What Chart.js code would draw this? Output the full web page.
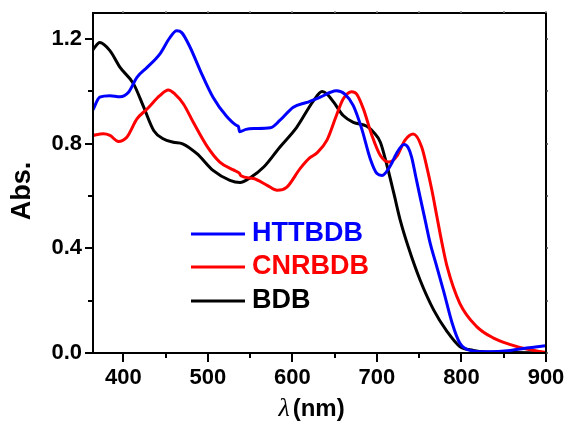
<!DOCTYPE html>
<html>
<head>
<meta charset="utf-8">
<script src="https://cdn.jsdelivr.net/npm/chart.js@4.4.1/dist/chart.umd.min.js"></script>
<style>
  html, body { margin: 0; padding: 0; background: #fff; }
  canvas { display: block; }
</style>
</head>
<body>
<canvas id="spectra" width="569" height="421"></canvas>
<script>
// Absorption spectra (wavelength in nm, absorbance)
const httbdbWavelength = [364, 372, 384, 396, 406, 416, 428, 443, 455, 463, 469, 479, 491, 506, 522, 534, 536, 537.5, 545, 554, 574, 585, 601, 617, 633, 645, 652, 662, 672, 682, 692, 700, 706, 716, 724, 732, 737, 741, 746, 751, 757, 763, 769, 779, 789, 798, 810, 830, 858, 877, 900];
const httbdbAbs = [0.93, 0.978, 0.984, 0.98, 0.997, 1.054, 1.092, 1.143, 1.206, 1.232, 1.225, 1.168, 1.079, 0.978, 0.905, 0.87, 0.866, 0.846, 0.855, 0.858, 0.861, 0.889, 0.94, 0.958, 0.978, 0.997, 1.003, 0.99, 0.946, 0.857, 0.743, 0.686, 0.679, 0.717, 0.768, 0.797, 0.785, 0.749, 0.673, 0.597, 0.508, 0.419, 0.35, 0.235, 0.114, 0.038, 0.01, 0.005, 0.01, 0.019, 0.028];

const cnrbdbWavelength = [364, 376, 384, 394, 404, 416, 428, 443, 453, 461, 471, 483, 499, 514, 530, 537, 539, 554, 570, 582, 593, 609, 620, 629, 641, 652, 660, 670, 676, 684, 694, 704, 714, 724, 733, 743, 753, 759, 765, 771, 777, 783, 798, 818, 838, 858, 877, 900];
const cnrbdbAbs = [0.832, 0.838, 0.832, 0.809, 0.825, 0.895, 0.933, 0.984, 1.006, 0.99, 0.952, 0.88, 0.79, 0.73, 0.7, 0.688, 0.678, 0.667, 0.641, 0.622, 0.633, 0.705, 0.745, 0.765, 0.815, 0.908, 0.971, 0.999, 0.99, 0.933, 0.832, 0.755, 0.73, 0.755, 0.813, 0.837, 0.787, 0.711, 0.622, 0.52, 0.419, 0.33, 0.19, 0.101, 0.057, 0.032, 0.015, 0.002];

const bdbWavelength = [364, 372, 384, 396, 412, 424, 436, 447, 459, 470, 487, 506, 526, 538, 550, 566, 585, 605, 625, 635, 641, 649, 660, 672, 688, 696, 704, 712, 720, 727.5, 737, 751, 767, 783, 798, 814, 830, 860, 900];
const bdbAbs = [1.16, 1.187, 1.156, 1.092, 1.029, 0.94, 0.85, 0.819, 0.806, 0.8, 0.762, 0.698, 0.66, 0.652, 0.67, 0.711, 0.787, 0.863, 0.965, 1.0, 0.99, 0.958, 0.908, 0.882, 0.867, 0.844, 0.806, 0.715, 0.61, 0.508, 0.406, 0.279, 0.165, 0.082, 0.025, 0.01, 0.004, 0.002, 0.0];

const seriesNames = ['HTTBDB', 'CNRBDB', 'BDB'];
const seriesColors = ['#0000ff', '#ff0000', '#000000'];

const xMajorTicks = [400, 500, 600, 700, 800, 900];
const xMinorTicks = [450, 550, 650, 750, 850];
const yMajorTicks = [0.0, 0.4, 0.8, 1.2];
const yMinorTicks = [0.2, 0.6, 1.0];
const xRange = [364, 900];
const yRange = [0, 1.3];

const yTitle = 'Abs.';
const xTitleSymbol = 'λ';
const xTitleUnit = '(nm)';

const FONT = '"Liberation Sans", Arial, Helvetica, sans-serif';

function toPoints(xs, ys) {
  return xs.map((x, i) => ({ x: x, y: ys[i] }));
}

const datasets = [
  toPoints(httbdbWavelength, httbdbAbs),
  toPoints(cnrbdbWavelength, cnrbdbAbs),
  toPoints(bdbWavelength, bdbAbs)
].map((pts, i) => ({
  label: seriesNames[i],
  data: pts,
  borderColor: seriesColors[i],
  backgroundColor: seriesColors[i],
  borderWidth: 3,
  pointRadius: 0,
  fill: false,
  cubicInterpolationMode: 'monotone'
}));

// Frame, tick marks, axis titles and the in-plot legend
const decorations = {
  id: 'decorations',
  afterDraw(chart) {
    const ctx = chart.ctx;
    const a = chart.chartArea;
    const xs = chart.scales.x;
    const ys = chart.scales.y;
    ctx.save();

    // frame
    ctx.strokeStyle = '#000';
    ctx.lineWidth = 2;
    ctx.strokeRect(a.left, a.top, a.right - a.left, a.bottom - a.top);

    ctx.lineCap = 'butt';
    const hTick = (v, len, y0, dir, color) => {
      const px = Math.round(xs.getPixelForValue(v));
      ctx.strokeStyle = color;
      ctx.beginPath();
      ctx.moveTo(px, y0);
      ctx.lineTo(px, y0 + dir * len);
      ctx.stroke();
    };
    const vTick = (v, len, x0, dir, color) => {
      const py = Math.round(ys.getPixelForValue(v));
      ctx.strokeStyle = color;
      ctx.beginPath();
      ctx.moveTo(x0, py);
      ctx.lineTo(x0 + dir * len, py);
      ctx.stroke();
    };
    ctx.lineWidth = 2;
    xMajorTicks.forEach(v => hTick(v, 9, a.bottom, 1, '#000'));
    xMinorTicks.forEach(v => hTick(v, 5, a.bottom, 1, '#000'));
    yMajorTicks.forEach(v => vTick(v, 8, a.left, -1, '#000'));
    yMinorTicks.forEach(v => vTick(v, 5, a.left, -1, '#000'));
    // mirrored ticks on top and right edges
    ctx.lineWidth = 1.5;
    xMajorTicks.concat(xMinorTicks).forEach(v => hTick(v, 2, a.top, -1, '#888'));
    yMajorTicks.concat(yMinorTicks).forEach(v => vTick(v, 2, a.right, 1, '#444'));

    // y axis title
    ctx.fillStyle = '#000';
    ctx.font = 'bold 27px ' + FONT;
    ctx.textAlign = 'center';
    ctx.textBaseline = 'middle';
    ctx.save();
    ctx.translate(23, 191);
    ctx.rotate(-Math.PI / 2);
    ctx.fillText(yTitle, 0, 0);
    ctx.restore();

    // x axis title: italic lambda followed by bold unit
    ctx.textAlign = 'left';
    ctx.textBaseline = 'alphabetic';
    const baseY = 416;
    ctx.font = 'italic 26px "Liberation Serif", "DejaVu Serif", serif';
    const symW = ctx.measureText(xTitleSymbol).width;
    ctx.font = 'bold 24px ' + FONT;
    const unitW = ctx.measureText(xTitleUnit).width;
    const gap = 3;
    const startX = (a.left + a.right) / 2 - 8 - (symW + gap + unitW) / 2;
    ctx.font = 'italic 26px "Liberation Serif", "DejaVu Serif", serif';
    ctx.fillText(xTitleSymbol, startX, baseY);
    ctx.font = 'bold 24px ' + FONT;
    ctx.fillText(xTitleUnit, startX + symW + gap, baseY);

    // legend
    const legendX = 191, legendLineLen = 54, legendTextX = 252;
    const legendYs = [234, 267, 301];
    ctx.font = 'bold 27px ' + FONT;
    ctx.textBaseline = 'middle';
    chart.data.datasets.forEach((ds, i) => {
      const y = legendYs[i];
      ctx.strokeStyle = ds.borderColor;
      ctx.lineWidth = 3;
      ctx.beginPath();
      ctx.moveTo(legendX, y);
      ctx.lineTo(legendX + legendLineLen, y);
      ctx.stroke();
      ctx.fillStyle = ds.borderColor;
      ctx.fillText(ds.label, legendTextX, y);
    });

    ctx.restore();
  }
};

new Chart(document.getElementById('spectra'), {
  type: 'line',
  data: { datasets: datasets },
  options: {
    responsive: false,
    animation: false,
    devicePixelRatio: 1,
    layout: { padding: { left: 0, right: 23, top: 13, bottom: 0 } },
    plugins: {
      legend: { display: false },
      tooltip: { enabled: false }
    },
    scales: {
      x: {
        type: 'linear',
        min: xRange[0],
        max: xRange[1],
        grid: { display: false, drawTicks: false },
        border: { display: false },
        afterBuildTicks: s => { s.ticks = xMajorTicks.map(v => ({ value: v })); },
        afterFit: s => { s.height = 68; s.paddingLeft = 0; s.paddingRight = 0; },
        ticks: {
          color: '#000',
          padding: 12,
          maxRotation: 0,
          font: { family: FONT, size: 22, weight: 'bold' },
          callback: v => String(v)
        }
      },
      y: {
        type: 'linear',
        min: yRange[0],
        max: yRange[1],
        grid: { display: false, drawTicks: false },
        border: { display: false },
        afterBuildTicks: s => { s.ticks = yMajorTicks.map(v => ({ value: v })); },
        afterFit: s => { s.width = 93; s.paddingTop = 0; s.paddingBottom = 0; },
        ticks: {
          color: '#000',
          padding: 11,
          font: { family: FONT, size: 22, weight: 'bold' },
          callback: v => Number(v).toFixed(1)
        }
      }
    }
  },
  plugins: [decorations]
});
</script>
</body>
</html>
